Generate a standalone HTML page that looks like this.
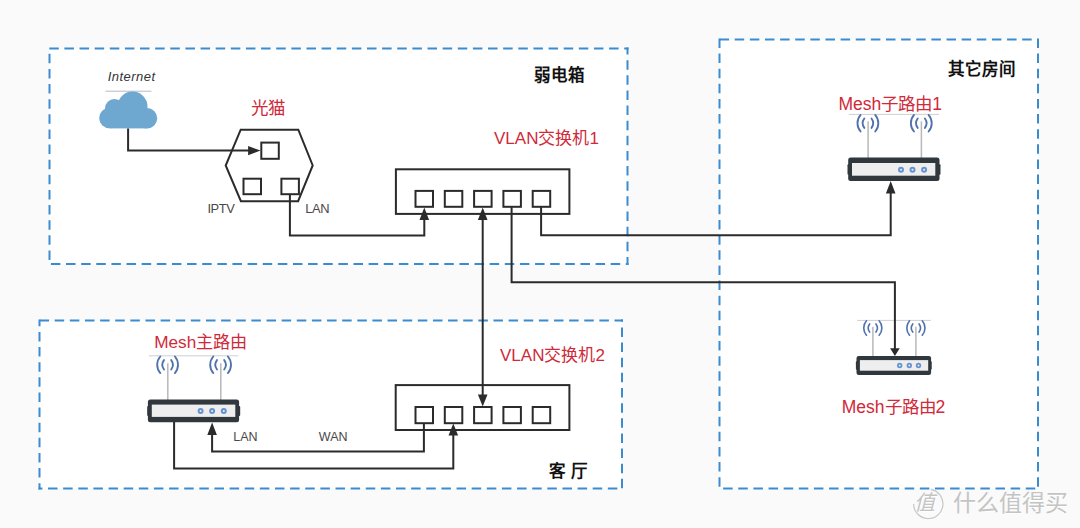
<!DOCTYPE html>
<html lang="zh-CN">
<head>
<meta charset="utf-8">
<style>
html,body{margin:0;padding:0;background:#fafafa;}
body{width:1080px;height:528px;overflow:hidden;font-family:"Liberation Sans",sans-serif;}
svg{display:block;position:absolute;left:0;top:0;}
svg text{font-family:"Liberation Sans",sans-serif;}
</style>
</head>
<body>
<svg width="1080" height="528" viewBox="0 0 1080 528">
<defs>
  <g id="wave" fill="none" stroke="#5072aa" stroke-width="1.85" stroke-linecap="round">
    <path d="M-7.3,-8.3 A12.6,12.6 0 0 0 -7.3,8.3"/>
    <path d="M-3.6,-4.7 A7.9,7.9 0 0 0 -3.6,4.7"/>
    <path d="M7.3,-8.3 A12.6,12.6 0 0 1 7.3,8.3"/>
    <path d="M3.6,-4.7 A7.9,7.9 0 0 1 3.6,4.7"/>
  </g>
</defs>

<!-- dashed boxes -->
<g fill="#ffffff">
  <rect x="49.5" y="48.5" width="578" height="215.5"/>
  <rect x="719.5" y="39.5" width="318.5" height="449"/>
  <rect x="39.5" y="320.5" width="582.5" height="168"/>
</g>
<g fill="none" stroke="#3a8bcf" stroke-width="2" stroke-dasharray="7.5 7.63" stroke-linecap="square">
  <path d="M49.5,48.5 L627.5,48.5" stroke-dashoffset="14.36"/>
  <path d="M627.5,48.5 L627.5,264.0" stroke-dashoffset="2.43"/>
  <path d="M627.5,264.0 L49.5,264.0" stroke-dashoffset="6.83"/>
  <path d="M49.5,264.0 L49.5,48.5" stroke-dashoffset="10.09"/>
  <path d="M719.5,39.5 L1038.0,39.5" stroke-dashoffset="14.06"/>
  <path d="M1038.0,39.5 L1038.0,488.6" stroke-dashoffset="0.10"/>
  <path d="M1038.0,488.6 L719.5,488.6" stroke-dashoffset="11.38"/>
  <path d="M719.5,488.6 L719.5,39.5" stroke-dashoffset="12.24"/>
  <path d="M39.5,320.5 L622.0,320.5" stroke-dashoffset="14.06"/>
  <path d="M622.0,320.5 L622.0,488.6" stroke-dashoffset="7.15"/>
  <path d="M622.0,488.6 L39.5,488.6" stroke-dashoffset="9.47"/>
  <path d="M39.5,488.6 L39.5,320.5" stroke-dashoffset="3.10"/>
</g>

<!-- box titles -->
<g font-weight="bold" font-size="16.5" fill="#111">
  <text x="534" y="81">弱电箱</text>
  <text x="948" y="75">其它房间</text>
  <text x="548.5" y="477">客</text>
  <text x="571" y="477">厅</text>
</g>

<!-- Internet cloud -->
<text x="107.8" y="81" font-size="13" font-style="italic" fill="#333" letter-spacing="0.45">Internet</text>
<line x1="105.5" y1="91.2" x2="151.4" y2="91.2" stroke="#b4bcc4" stroke-width="1"/>
<g fill="#6ea7cf">
  <circle cx="109.5" cy="118" r="10.3"/>
  <circle cx="114.5" cy="108.5" r="9.5"/>
  <circle cx="132.5" cy="106.6" r="15"/>
  <circle cx="147" cy="118.2" r="10.2"/>
  <rect x="109.5" y="108" width="37.5" height="20.4"/>
</g>

<!-- ONT -->
<text x="251.1" y="113.9" font-size="17.5" fill="#cf2a3a">光猫</text>
<g fill="none" stroke="#2b2b2b" stroke-width="2">
  <polygon points="240.7,129.7 298.3,129.7 312.7,165.4 298.1,201.2 240.9,201.2 225.7,165.5"/>
  <rect x="261.3" y="142.6" width="17.5" height="16.2"/>
  <rect x="243.5" y="178.7" width="17.5" height="15.5"/>
  <rect x="281.4" y="178.7" width="17.5" height="15.5"/>
</g>
<g font-size="12.9" fill="#484848" letter-spacing="-0.4">
  <text x="207.4" y="212.8">IPTV</text>
  <text x="305.2" y="212.8">LAN</text>
</g>

<!-- switch 1 -->
<text x="494" y="144.1" font-size="17" fill="#cf2a3a">VLAN交换机1</text>
<g fill="none" stroke="#2b2b2b" stroke-width="2">
  <rect x="395.9" y="169.3" width="173.5" height="44.6"/>
  <rect x="415.5" y="190.9" width="17.5" height="15.9"/>
  <rect x="444.8" y="190.9" width="17.5" height="15.9"/>
  <rect x="474.1" y="190.9" width="17.5" height="15.9"/>
  <rect x="503.4" y="190.9" width="17.5" height="15.9"/>
  <rect x="532.7" y="190.9" width="17.5" height="15.9"/>
</g>

<!-- switch 2 -->
<text x="500" y="361.4" font-size="17" fill="#cf2a3a">VLAN交换机2</text>
<g fill="none" stroke="#2b2b2b" stroke-width="2">
  <rect x="395.7" y="385.1" width="173.7" height="44.9"/>
  <rect x="415.5" y="407" width="17.5" height="16.2"/>
  <rect x="444.8" y="407" width="17.5" height="16.2"/>
  <rect x="474.1" y="407" width="17.5" height="16.2"/>
  <rect x="503.4" y="407" width="17.5" height="16.2"/>
  <rect x="532.7" y="407" width="17.5" height="16.2"/>
</g>

<!-- Mesh main router -->
<text x="154.2" y="347.9" font-size="17.2" fill="#cf2a3a">Mesh主路由</text>
<line x1="149" y1="355.8" x2="238.3" y2="355.8" stroke="#ccd0d4" stroke-width="1"/>
<g stroke="#b8b8b8" stroke-width="1.5">
  <line x1="167.8" y1="363.3" x2="167.8" y2="400"/>
  <line x1="220.8" y1="363.3" x2="220.8" y2="400"/>
</g>
<use href="#wave" x="167.6" y="364.8"/>
<use href="#wave" x="220.6" y="364.8"/>
<rect x="147.9" y="399.5" width="91.2" height="22.8" rx="2.5" fill="#30383d"/>
<rect x="147.2" y="406" width="93" height="10" rx="1" fill="#30383d"/>
<rect x="151.8" y="404.6" width="83.5" height="12.3" fill="#eeeeee"/>
<g fill="none" stroke="#6592d0" stroke-width="2">
  <circle cx="200.6" cy="411" r="2"/>
  <circle cx="212.1" cy="411" r="2"/>
  <circle cx="223.8" cy="411" r="2"/>
</g>

<!-- Mesh sub router 1 -->
<text x="838.5" y="110" font-size="17.5" fill="#cf2a3a">Mesh子路由1</text>
<line x1="849" y1="114.4" x2="939" y2="114.4" stroke="#ccd0d4" stroke-width="1"/>
<g stroke="#b8b8b8" stroke-width="1.5">
  <line x1="868.1" y1="121.3" x2="868.1" y2="159"/>
  <line x1="921.4" y1="121.3" x2="921.4" y2="159"/>
</g>
<use href="#wave" x="867.9" y="123.2"/>
<use href="#wave" x="921.3" y="123.2"/>
<rect x="848.2" y="157.6" width="91.3" height="23.4" rx="2.5" fill="#30383d"/>
<rect x="847.5" y="164.3" width="93" height="10.4" rx="1" fill="#30383d"/>
<rect x="852" y="163" width="83.3" height="12.7" fill="#eeeeee"/>
<g fill="none" stroke="#6592d0" stroke-width="2">
  <circle cx="901" cy="169.8" r="2"/>
  <circle cx="912.5" cy="169.8" r="2"/>
  <circle cx="924.1" cy="169.8" r="2"/>
</g>

<!-- Mesh sub router 2 -->
<text x="841.8" y="412.8" font-size="17.5" fill="#cf2a3a">Mesh子路由2</text>
<line x1="857.3" y1="320.4" x2="930.9" y2="320.4" stroke="#ccd0d4" stroke-width="1"/>
<g stroke="#b8b8b8" stroke-width="1.5">
  <line x1="872.9" y1="326.8" x2="872.9" y2="356"/>
  <line x1="915.9" y1="326.8" x2="915.9" y2="356"/>
</g>
<g transform="translate(872.8,328) scale(0.87)"><use href="#wave"/></g>
<g transform="translate(915.9,328) scale(0.87)"><use href="#wave"/></g>
<rect x="856.5" y="355.9" width="74.6" height="19.1" rx="2.2" fill="#30383d"/>
<rect x="855.9" y="361.3" width="75.8" height="8.4" rx="1" fill="#30383d"/>
<rect x="859.9" y="360.1" width="68.3" height="10.6" fill="#eeeeee"/>
<g fill="none" stroke="#6592d0" stroke-width="1.8">
  <circle cx="899.7" cy="365.5" r="1.8"/>
  <circle cx="909.3" cy="365.5" r="1.8"/>
  <circle cx="918.5" cy="365.5" r="1.8"/>
</g>

<!-- connection lines -->
<g fill="none" stroke="#2b2b2b" stroke-width="2">
  <path d="M128.1,128.5 V150.6 H250"/>
  <path d="M289.9,195 V235.4 H424.3 V219"/>
  <path d="M541.1,207 V235.2 H890.7 V192"/>
  <path d="M511.6,207 V282.3 H894.9 V349"/>
  <path d="M482.7,219 V396"/>
  <path d="M423.9,423 V451.6 H212.1 V434"/>
  <path d="M174.1,422 V468.4 H453.3 V434"/>
</g>
<g fill="#2b2b2b">
  <polygon points="260.5,150.6 248.1,146 248.1,155.2"/>
  <polygon points="424.3,207.5 419.5,220 429.1,220"/>
  <polygon points="482.7,207.5 477.9,220 487.5,220"/>
  <polygon points="482.7,406.5 477.9,394.5 487.5,394.5"/>
  <polygon points="890.7,181 885.9,193.4 895.5,193.4"/>
  <polygon points="894.9,355.9 890.1,348.2 899.7,348.2"/>
  <polygon points="212.1,422.5 207.3,435 216.9,435"/>
  <polygon points="453.3,423.5 448.5,435.5 458.1,435.5"/>
</g>

<!-- LAN / WAN -->
<g font-size="12.5" fill="#484848">
  <text x="233.3" y="440.9">LAN</text>
  <text x="318.8" y="440.9">WAN</text>
</g>

<!-- watermark -->
<path d="M913.6,504 A14.7,14.7 0 1 0 930.9,489.5" fill="none" stroke="#ffffff" stroke-width="1.3" transform="translate(0.8,0.8)"/>
<path d="M913.6,504 A14.7,14.7 0 1 0 930.9,489.5" fill="none" stroke="#c9c9c9" stroke-width="1.3"/>
<text x="913.8" y="509.8" font-size="21" font-style="italic" fill="#ffffff" transform="translate(0.8,0.8)">值</text>
<text x="913.8" y="509.8" font-size="21" font-style="italic" fill="#c4c4c4">值</text>
<text x="952.5" y="510.8" font-size="23" fill="#ffffff" transform="translate(0.8,0.8)">什么值得买</text>
<text x="952.5" y="510.8" font-size="23" fill="#c4c4c4">什么值得买</text>
</svg>
</body>
</html>
